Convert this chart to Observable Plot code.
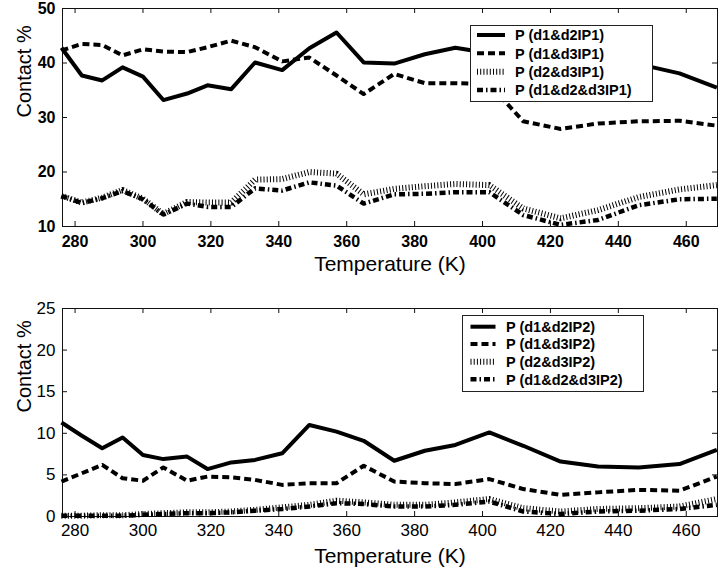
<!DOCTYPE html>
<html><head><meta charset="utf-8">
<script src="https://cdn.jsdelivr.net/npm/d3@7"></script>
<script src="https://cdn.jsdelivr.net/npm/@observablehq/plot@0.6"></script>
<style>
body{margin:0;background:#fff;}
#wrap{position:relative;width:720px;height:578px;font-family:"Liberation Sans",Arial,sans-serif;background:#fff;}
.panel{position:relative;width:720px;height:289px;}
.panel svg.leg{position:absolute;}
</style>
</head><body><div id="wrap"><div class="panel" id="p1"></div><div class="panel" id="p2"></div></div>
<script>
// Temperatures (K)
const temps = [276, 282, 288, 294, 300, 306, 313, 319, 326, 333, 341, 349, 357, 365, 374, 383, 392, 402, 412, 423, 434, 446, 458, 469];
const xTicks = [280, 300, 320, 340, 360, 380, 400, 420, 440, 460];

// Panel 1 (P1)
const p1_d1d2   = [42.8, 37.7, 36.8, 39.2, 37.5, 33.2, 34.4, 35.9, 35.2, 40.1, 38.7, 42.7, 45.6, 40.1, 39.9, 41.6, 42.8, 41.8, 41.2, 40.6, 40.8, 39.8, 38.1, 35.5];
const p1_d1d3   = [42.3, 43.5, 43.3, 41.4, 42.5, 42.1, 42.0, 42.9, 44.1, 42.9, 40.3, 41.0, 37.7, 34.3, 38.0, 36.3, 36.3, 36.1, 29.3, 27.9, 28.9, 29.3, 29.4, 28.5];
const p1_d2d3   = [15.6, 14.4, 15.3, 16.7, 15.1, 12.3, 14.5, 14.4, 14.4, 18.6, 18.7, 20.0, 19.7, 15.9, 16.9, 17.4, 17.8, 17.6, 13.3, 11.5, 13.0, 15.4, 16.8, 17.6];
const p1_d1d2d3 = [15.6, 14.3, 15.2, 16.5, 15.0, 12.2, 14.2, 13.6, 13.6, 17.0, 16.6, 18.1, 17.5, 14.2, 15.9, 16.0, 16.3, 16.3, 12.1, 10.3, 11.2, 13.9, 15.0, 15.1];
const p1_labels = ["P (d1&d2IP1)", "P (d1&d3IP1)", "P (d2&d3IP1)", "P (d1&d2&d3IP1)"];
const p1_yTicks = [10, 20, 30, 40, 50];

// Panel 2 (P2)
const p2_d1d2   = [11.3, 9.7, 8.2, 9.5, 7.4, 6.9, 7.2, 5.7, 6.5, 6.8, 7.6, 11.0, 10.2, 9.1, 6.7, 7.9, 8.6, 10.1, 8.5, 6.6, 6.0, 5.9, 6.3, 8.0];
const p2_d1d3   = [4.2, 5.2, 6.2, 4.6, 4.3, 5.9, 4.3, 4.8, 4.7, 4.4, 3.8, 4.0, 4.0, 6.1, 4.2, 4.0, 3.9, 4.5, 3.3, 2.6, 2.9, 3.2, 3.1, 4.8];
const p2_d2d3   = [0.1, 0.1, 0.15, 0.15, 0.3, 0.4, 0.5, 0.5, 0.6, 0.8, 1.1, 1.4, 1.9, 1.7, 1.4, 1.4, 1.7, 2.1, 1.0, 0.6, 0.9, 1.0, 1.2, 2.1];
const p2_d1d2d3 = [0.1, 0.1, 0.1, 0.1, 0.2, 0.3, 0.4, 0.4, 0.5, 0.7, 0.9, 1.2, 1.6, 1.5, 1.2, 1.2, 1.4, 1.8, 0.6, 0.3, 0.6, 0.7, 0.9, 1.4];
const p2_labels = ["P (d1&d2IP2)", "P (d1&d3IP2)", "P (d2&d3IP2)", "P (d1&d2&d3IP2)"];
const p2_yTicks = [0, 5, 10, 15, 20, 25];

const styles = [
  {w: 4, dash: null},
  {w: 4, dash: "7,4"},
  {w: 6, dash: "1,2.2"},
  {w: 4.5, dash: "6,3,1.5,3"}
];
const FONT = '"Liberation Sans", Arial, Helvetica, sans-serif';

function panel(el, o) {
  const W = 720, Hh = 289, mL = 62, mR = 3;
  const H = Hh - o.marginTop - o.marginBottom, IW = W - mL - mR;
  const marks = [
    Plot.frame({stroke: "#111", strokeWidth: 1}),
    Plot.ruleX(xTicks, {x: d => d, insetTop: H - 5, stroke: "#111"}),
    Plot.ruleX(xTicks, {x: d => d, insetBottom: H - 5, stroke: "#111"}),
    Plot.ruleY(o.yTicks, {y: d => d, insetRight: IW - 5, stroke: "#111"}),
    Plot.ruleY(o.yTicks, {y: d => d, insetLeft: IW - 5, stroke: "#111"})
  ];
  o.series.forEach((vals, k) => {
    marks.push(Plot.line(temps, {x: d => d, y: (d, i) => vals[i], stroke: "#000",
      strokeWidth: styles[k].w, strokeDasharray: styles[k].dash, strokeLinejoin: "round", strokeLinecap: "butt"}));
  });
  marks.push(
    Plot.axisX({ticks: xTicks, tickSize: 0, tickPadding: o.tickPadX, label: null, fontSize: o.tickFont, fontWeight: o.tickWeight}),
    Plot.axisY({ticks: o.yTicks, tickSize: 0, tickPadding: 7, label: null, fontSize: o.tickFont, fontWeight: o.tickWeight}),
    Plot.text(["Temperature (K)"], {text: d => d, frameAnchor: "bottom", dy: o.xLabelDy, fontSize: 21, fontWeight: "normal"}),
    Plot.text(["Contact %"], {text: d => d, frameAnchor: "left", dx: -38, rotate: -90, fontSize: 20, fontWeight: "normal"})
  );
  const svg = Plot.plot({
    width: W, height: Hh, marginLeft: mL, marginRight: mR, marginTop: o.marginTop, marginBottom: o.marginBottom,
    x: {domain: [276.3, 469.2]},
    y: {domain: o.yDomain},
    style: {fontFamily: FONT, fontSize: o.tickFont + "px", fontWeight: o.tickWeight, color: "#000", background: "#fff"},
    marks
  });
  el.appendChild(svg);

  // legend
  const L = o.legend;
  const leg = d3.select(el).append("svg").attr("class", "leg")
    .style("left", L.left + "px").style("top", L.top + "px")
    .attr("width", L.w).attr("height", L.h);
  leg.append("rect").attr("x", 0.5).attr("y", 0.5).attr("width", L.w - 1).attr("height", L.h - 1)
    .attr("fill", "#fff").attr("stroke", "#222").attr("stroke-width", 1);
  o.labels.forEach((lab, k) => {
    const y = L.rows[k];
    leg.append("line").attr("x1", L.s0).attr("x2", L.s1).attr("y1", y).attr("y2", y)
      .attr("stroke", "#000").attr("stroke-width", styles[k].w)
      .attr("stroke-dasharray", styles[k].dash);
    leg.append("text").attr("x", L.tx).attr("y", y).attr("dy", "0.36em")
      .attr("font-family", FONT).attr("font-size", 14.5).attr("font-weight", "bold").text(lab);
  });
}

panel(document.getElementById("p1"), {
  series: [p1_d1d2, p1_d1d3, p1_d2d3, p1_d1d2d3], labels: p1_labels,
  yDomain: [10, 50], yTicks: p1_yTicks, marginTop: 8, marginBottom: 63,
  tickFont: 16, tickWeight: "bold", tickPadX: 9, xLabelDy: 44,
  legend: {left: 470, top: 25, w: 183, h: 77, rows: [10, 28.3, 46.7, 65], s0: 7, s1: 35, tx: 45}
});
panel(document.getElementById("p2"), {
  series: [p2_d1d2, p2_d1d3, p2_d2d3, p2_d1d2d3], labels: p2_labels,
  yDomain: [0, 25], yTicks: p2_yTicks, marginTop: 19, marginBottom: 62,
  tickFont: 17, tickWeight: "normal", tickPadX: 7, xLabelDy: 46,
  legend: {left: 461.5, top: 26, w: 182, h: 77, rows: [11.7, 29, 46.7, 64.3], s0: 8.5, s1: 33.5, tx: 44}
});
</script></body></html>
